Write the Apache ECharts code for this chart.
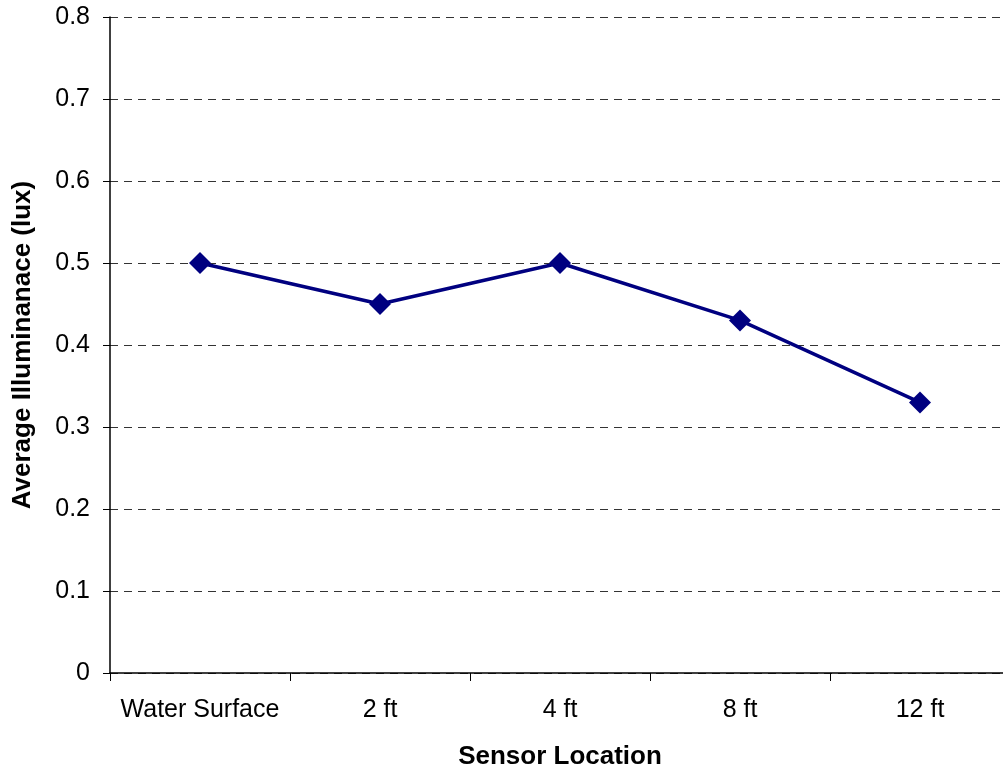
<!DOCTYPE html>
<html>
<head>
<meta charset="utf-8">
<script src="https://cdn.jsdelivr.net/npm/echarts@6/dist/echarts.min.js"></script>
<style>
  html, body { margin: 0; padding: 0; background: #fff; }
  #chart { width: 1003px; height: 776px; }
</style>
</head>
<body>
<div id="chart"></div>
<script>
// sensor positions and measured average illuminance
const locations = ["Water Surface", "2 ft", "4 ft", "8 ft", "12 ft"];
const illuminance = [0.5, 0.45, 0.5, 0.43, 0.33];
const yTicks = { min: 0, max: 0.8, interval: 0.1 };

const chart = echarts.init(document.getElementById("chart"));
const font = "Liberation Sans, Arial, sans-serif";

chart.setOption({
  animation: false,
  grid: {
    left: 110, right: -7, top: 17, bottom: 103,
    containLabel: false, outerBoundsMode: "none"
  },
  xAxis: {
    type: "category",
    data: locations,
    boundaryGap: true,
    name: "Sensor Location",
    nameLocation: "middle",
    nameGap: 71,
    nameTextStyle: { fontFamily: font, fontSize: 26, fontWeight: "bold", color: "#000" },
    axisLine: { lineStyle: { color: "#000", width: 1.5 } },
    axisTick: { show: true, interval: 0, length: 8, lineStyle: { color: "#000" } },
    axisLabel: {
      fontFamily: font, fontSize: 25, color: "#000", margin: 25,
      interval: 0, hideOverlap: false
    },
    splitLine: { show: false }
  },
  yAxis: {
    type: "value",
    min: yTicks.min,
    max: yTicks.max,
    interval: yTicks.interval,
    name: "Average Illuminanace (lux)",
    nameLocation: "middle",
    nameGap: 74,
    nameTextStyle: { fontFamily: font, fontSize: 26, fontWeight: "bold", color: "#000" },
    axisLine: { show: true, lineStyle: { color: "#000", width: 1.5 } },
    axisTick: { show: true, length: 7, lineStyle: { color: "#000" } },
    axisLabel: {
      fontFamily: font, fontSize: 25, color: "#000", margin: 20,
      formatter: v => (v === 0 ? "0" : v.toFixed(1))
    },
    splitLine: {
      show: true,
      lineStyle: { color: "#333", width: 1, type: [8, 6] }
    }
  },
  series: [{
    type: "line",
    data: illuminance,
    symbol: "diamond",
    symbolSize: 22,
    itemStyle: { color: "#000080" },
    lineStyle: { color: "#000080", width: 3.5 }
  }]
});
</script>
</body>
</html>
